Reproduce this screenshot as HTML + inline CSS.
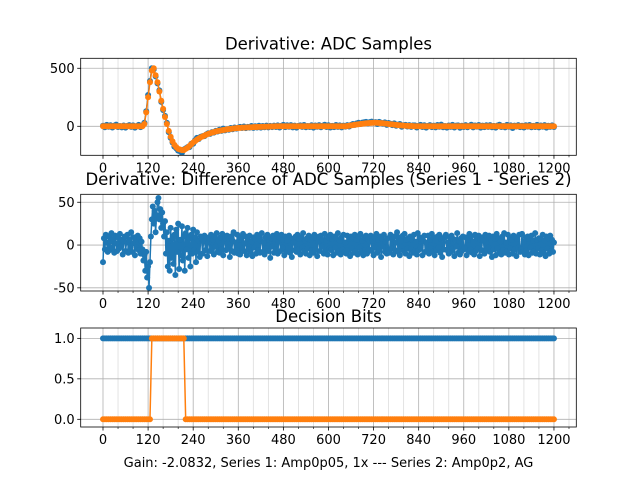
<!DOCTYPE html>
<html><head><meta charset="utf-8"><style>
body{margin:0;background:#fff}
svg{display:block;font-family:"DejaVu Sans","Liberation Sans",sans-serif}
</style></head><body>
<svg id="fig" width="640" height="480" viewBox="0 0 640 480" xmlns="http://www.w3.org/2000/svg">
<rect width="640" height="480" fill="#fff"/>
</svg>
<script>
// ---- data ----
const xTicks = [0,120,240,360,480,600,720,840,960,1080,1200];
const topYTicks = [0,500];
const diffYTicks = [-50,0,50];
const bitsYTicks = [0.0,0.5,1.0];
const bitsYLabels = ["0.0","0.5","1.0"];
const series2Top = [].concat(
 Array(22).fill(0),
 [20,120,250,380,480,500,440,380,300,220,150,80,20,-40],
 [-90,-130,-160,-180,-195,-200,-205,-205,-195,-185,-170,-155,-140,-128,-115,-105,-95,-88,-80,-72,-65,-60,-55,-50,-45,-41,-38,-35,-32,-30,-27,-24,-22,-20,-18,-16,-15],
 [-14,-12,-11,-10,-9,-8,-8,-7,-6,-6,-5,-5,-4,-4,-3,-3,-2,-2,-1],
 Array(38).fill(0),
 [3,5,8,10,13,15,18,20,22,24,26,27,28,29,30,30,29,28,27,26,24,22,20,18,16,14,12,10,9,7,6,5,4,3,2,1],
 Array(75).fill(0));
const series1Top = [
 5,-8,12,-4,9,-10,6,14,-6,3,-9,7,-12,4,10,-5,8,-11,3,12,-7,6,
 30,130,270,390,500,490,430,370,310,210,140,90,30,-50,
 -100,-140,-175,-190,-210,-215,-230,-200,-190,-180,-180,-150,-150,-120,-100,-110,-90,-85,-85,-70,-60,-65,-50,-55,-40,-45,-30,-40,-20,-35,-25,-30,-15,-25,-10,-20,-12,
 -5,-15,-2,-16,-5,-12,3,-14,0,-10,5,-12,3,-8,6,-9,4,-7,6,
 -6,8,-10,5,12,-7,9,-4,10,-9,6,-11,4,8,-5,11,-8,3,-6,9,-12,7,-4,10,-8,5,13,-6,9,-10,4,-7,11,-5,8,-9,6,-3,
 10,-2,12,20,12,25,30,20,32,35,38,25,36,40,30,36,20,38,30,22,34,12,28,22,10,25,5,14,20,-4,9,12,-2,10,-5,8,
 8,-10,5,12,-6,9,-12,4,10,-7,6,-9,11,-4,14,-8,3,-11,7,-5,12,-10,6,8,-13,5,-6,10,-8,4,13,-9,7,-3,11,-12,6,-7,9,-5,10,-8,4,-11,7,13,-6,3,-9,12,-4,8,-15,6,-2,10,-7,5,-10,9,-3,11,-8,4,-6,12,-9,7,-4,10,-11,5,-5,8,-6];
const diffValues = [
 -20,8,-5,12,3,-8,10,-6,4,14,-3,7,-9,11,2,-7,9,-4,13,-2,6,-11,5,10,-7,3,12,-9,6,-4,15,-8,2,9,-12,7,-3,11,-6,8,-10,4,-5,
 -18,-12,-30,-8,-38,-25,-50,-20,
 10,30,45,25,40,15,35,50,55,30,42,20,38,25,10,28,
 -10,15,-25,5,-30,20,-15,8,-22,12,-35,18,-8,25,-28,6,-12,22,-18,10,-30,14,-5,20,-15,8,-25,12,-10,18,-6,9,-20,15,-8,5,-14,10,
 7,-10,4,11,-6,9,-13,3,8,-7,12,-4,6,-11,10,-2,14,-8,5,-9,
 9,-5,13,-12,4,8,-6,11,-3,7,-14,10,-7,5,15,-9,3,-6,12,-10,
 6,-11,9,-4,13,-7,2,10,-12,8,-5,11,-8,4,-13,9,-3,7,-10,12,
 -6,10,-9,5,14,-8,3,-11,9,-4,12,-7,6,-15,8,-2,11,-9,7,-5,
 13,-10,4,9,-7,12,-3,6,-12,10,-8,5,-4,11,-9,8,-14,7,3,-6,
 10,-8,12,-5,7,-11,9,-3,14,-7,5,-10,8,-4,11,-12,6,-6,9,-9,
 12,-5,8,-13,4,10,-7,11,-2,6,-10,13,-8,5,-11,9,-4,12,-6,7,
 -12,10,-3,8,-9,14,-7,5,-11,9,-5,12,-8,3,-10,11,-6,7,-13,10,
 -4,8,-9,12,-7,6,-11,10,-3,13,-8,5,-12,9,-6,11,-10,7,-5,4,
 11,-7,5,-12,9,-3,13,-9,6,-5,10,-14,7,-2,12,-8,4,-10,8,-6,
 -9,12,-4,7,-11,10,-6,3,15,-8,9,-12,5,-3,11,-7,13,-10,6,-4,
 8,-13,10,-5,6,-9,12,-7,4,-11,14,-6,9,-3,7,-12,5,11,-8,3,
 -7,11,-10,6,-4,13,-8,9,-12,5,-6,10,-3,12,-9,7,-14,8,-5,10,
 12,-6,3,-10,9,-8,11,-4,7,-13,6,-2,14,-9,5,-11,8,-7,10,-5,
 -3,9,-12,6,-8,13,-5,10,-9,4,-11,12,-7,8,-4,11,-13,6,-6,9,
 5,-10,12,-7,9,-3,11,-8,6,-14,10,-5,7,-12,13,-4,8,-9,4,-11,
 10,-6,14,-9,3,-7,12,-11,8,-4,6,-10,11,-5,9,-13,7,-3,12,-8,
 -5,13,-8,4,-11,9,-6,10,-12,7,-3,11,-9,5,-7,14,-10,6,-4,8,
 -11,7,-6,12,-9,5,-13,10,-4,8,-10,11,-7,6,-8,3];
const bits1 = Array(241).fill(1);
const bits2 = [].concat(Array(26).fill(0), Array(18).fill(1), Array(197).fill(0));

// ---- drawing ----
const NS="http://www.w3.org/2000/svg";
const svg=document.getElementById('fig');
function mk(tag,attrs,parent){const e=document.createElementNS(NS,tag);for(const k in attrs)e.setAttribute(k,attrs[k]);(parent||svg).appendChild(e);return e;}
const X0=80.7,X1=576.3;
function xs(v){return 103+v*0.3758;}
function spanX(n){const a=[];for(let i=0;i<n;i++)a.push(i*1200/(n-1));return a;}

function axes(name,top,bot,ymin,ymax,yt,ylab,title,titleY){
  const g=mk('g',{});
  
  
  const ys=v=>bot-(v-ymin)/(ymax-ymin)*(bot-top);
  for(let v=40;v<=1240;v+=40){ if(v%120===0)continue; const x=xs(v);
    mk('line',{x1:x,x2:x,y1:top,y2:bot,stroke:'#dcdcdc','stroke-width':0.8},g);
    mk('line',{x1:x,x2:x,y1:bot,y2:bot+2,stroke:'#000','stroke-width':0.6},g);}
  xTicks.forEach(v=>{const x=xs(v);
    mk('line',{x1:x,x2:x,y1:top,y2:bot,stroke:'#b0b0b0','stroke-width':0.8},g);
    mk('line',{x1:x,x2:x,y1:bot,y2:bot+3.5,stroke:'#000','stroke-width':0.8},g);
    const t=mk('text',{x:x,y:bot+17,'text-anchor':'middle','font-size':13},g);t.textContent=v;
    
    });
  yt.forEach((v,i)=>{const y=ys(v);
    mk('line',{x1:X0,x2:X1,y1:y,y2:y,stroke:'#b0b0b0','stroke-width':0.8},g);
    mk('line',{x1:X0-3.5,x2:X0,y1:y,y2:y,stroke:'#000','stroke-width':0.8},g);
    const t=mk('text',{x:X0-6,y:y+4.5,'text-anchor':'end','font-size':13},g);t.textContent=ylab[i];
    
    });
  const tt=mk('text',{x:328.5,y:titleY,'text-anchor':'middle','font-size':16.5},g);tt.textContent=title;
  
  
  return {g,ys,top,bot};
}
let cid=0;
function series(ax,ysArr,color,name){
  const xsArr=spanX(ysArr.length);
  const clipId='clip'+(cid++);
  const cp=mk('clipPath',{id:clipId},ax.g);mk('rect',{x:X0,y:ax.top,width:X1-X0,height:ax.bot-ax.top},cp);
  const g=mk('g',{'clip-path':`url(#${clipId})`},ax.g);
  
  
  const pts=xsArr.map((x,i)=>xs(x).toFixed(2)+','+ax.ys(ysArr[i]).toFixed(2)).join(' ');
  mk('polyline',{points:pts,fill:'none',stroke:color,'stroke-width':1.5},g);
  xsArr.forEach((x,i)=>{const c=mk('circle',{cx:xs(x),cy:ax.ys(ysArr[i]),r:3,fill:color},g);
    
    });
}
function frame(ax){mk('rect',{x:X0,y:ax.top,width:X1-X0,height:ax.bot-ax.top,fill:'none',stroke:'#000','stroke-width':0.8},ax.g);}

const a1=axes('adc-derivative-plot',58.3,155.3,-250,586,topYTicks,topYTicks.map(String),'Derivative: ADC Samples',49.5);
series(a1,series1Top,'#1f77b4','series-1-line');
series(a1,series2Top,'#ff7f0e','series-2-line');
frame(a1);
const a2=axes('difference-plot',194.3,291,-53.7,59.3,diffYTicks,diffYTicks.map(String),'Derivative: Difference of ADC Samples (Series 1 - Series 2)',185);
series(a2,diffValues,'#1f77b4','difference-line');
frame(a2);
const a3=axes('decision-bits-plot',328,427,-0.095,1.128,bitsYTicks,bitsYLabels,'Decision Bits',322);
series(a3,bits1,'#1f77b4','bits-series-1');
series(a3,bits2,'#ff7f0e','bits-series-2');
frame(a3);
const xl=mk('text',{x:328.5,y:467,'text-anchor':'middle','font-size':13});
xl.textContent='Gain: -2.0832, Series 1: Amp0p05, 1x --- Series 2: Amp0p2, AG';


</script>
</body></html>
